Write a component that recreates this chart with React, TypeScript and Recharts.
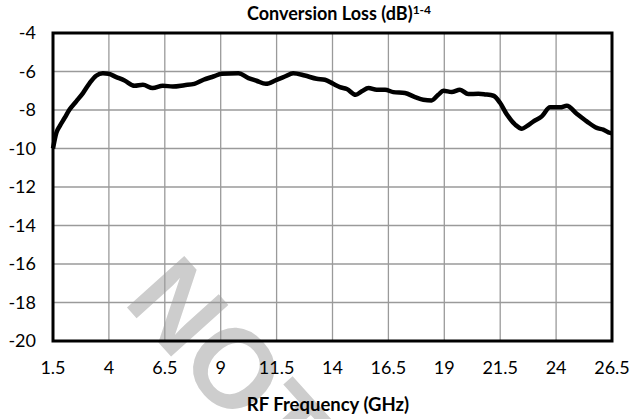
import { LineChart, Line, XAxis, YAxis, CartesianGrid, ReferenceArea } from 'recharts';

// RF frequency (GHz) and conversion loss (dB)
const freq = [
  1.5, 1.65, 1.8, 2.02, 2.24, 2.54, 2.84, 3.14, 3.43, 3.73, 3.98, 4.33, 4.7, 5.15, 5.52, 5.96,
  6.41, 6.86, 7.38, 7.82, 8.23, 8.67, 9.04, 9.79, 10.24, 10.6, 11.02, 11.5, 11.87, 12.24, 12.76,
  13.29, 13.66, 14.03, 14.33, 14.64, 15.04, 15.31, 15.61, 15.98, 16.35, 16.72, 17.24, 17.69,
  18.06, 18.43, 18.73, 18.96, 19.33, 19.7, 20.07, 20.52, 20.82, 21.2, 21.5, 21.8, 22.17, 22.47,
  22.69, 22.99, 23.36, 23.73, 24.18, 24.48, 24.92, 25.37, 25.82, 26.11, 26.41, 26.5,
];
const loss = [
  -10.0, -9.19, -8.84, -8.41, -7.98, -7.55, -7.12, -6.6, -6.22, -6.09, -6.12, -6.29, -6.47, -6.74,
  -6.69, -6.86, -6.74, -6.78, -6.71, -6.64, -6.43, -6.26, -6.12, -6.09, -6.34, -6.48, -6.64, -6.43,
  -6.26, -6.09, -6.21, -6.38, -6.43, -6.64, -6.81, -6.91, -7.21, -7.03, -6.86, -6.95, -6.95, -7.07,
  -7.12, -7.33, -7.47, -7.5, -7.21, -7.0, -7.07, -6.95, -7.17, -7.16, -7.19, -7.26, -7.64, -8.24,
  -8.76, -8.97, -8.84, -8.59, -8.33, -7.86, -7.86, -7.78, -8.19, -8.59, -8.93, -9.02, -9.19, -9.2,
];

const xTicks = [1.5, 4, 6.5, 9, 11.5, 14, 16.5, 19, 21.5, 24, 26.5];
const yTicks = [-20, -18, -16, -14, -12, -10, -8, -6, -4];

const data = freq.map((f, i) => ({ f, loss: loss[i] }));

const FONT = 'Lato, "Open Sans", sans-serif';

export default function App() {
  return (
    <div style={{ position: 'absolute', left: 0, top: 0, width: 631, height: 419, background: '#fff', overflow: 'hidden' }}>
      {/* background layer: watermark + titles */}
      <svg width={631} height={419} style={{ position: 'absolute', left: 0, top: 0 }}>
        <text
          x={122}
          y={302}
          transform="rotate(48 122 302)"
          fontFamily='"Liberation Sans", Arial, sans-serif'
          fontWeight="bold"
          fontSize={112}
          fill="#cdcdcd"
        >
          NOT
        </text>
        <text x={247} y={20} fontFamily={FONT} fontWeight="bold" fontSize={18} fill="#000">
          Conversion Loss (dB)
          <tspan fontSize={12} dy={-6}>1-4</tspan>
        </text>
        <text x={328} y={411} textAnchor="middle" fontFamily={FONT} fontWeight="bold" fontSize={18.5} fill="#000">
          RF Frequency (GHz)
        </text>
      </svg>
      <div style={{ position: 'absolute', left: 0, top: 0 }}>
        <LineChart width={631} height={419} data={data} margin={{ top: 33, right: 19, left: 0, bottom: 38 }}>
          <CartesianGrid stroke="#9a9a9a" strokeWidth={1.3} horizontalValues={yTicks} verticalValues={xTicks} />
          <XAxis
            dataKey="f"
            type="number"
            domain={[1.5, 26.5]}
            ticks={xTicks}
            height={40}
            axisLine={false}
            tickLine={false}
            tickSize={0}
            tickMargin={20}
            tick={{ fill: '#000', fontSize: 18, fontFamily: FONT }}
          />
          <YAxis
            type="number"
            domain={[-20, -4]}
            ticks={yTicks}
            width={53}
            axisLine={false}
            tickLine={false}
            tickSize={0}
            tickMargin={17}
            tick={{ fill: '#000', fontSize: 18, fontFamily: FONT }}
          />
          <ReferenceArea x1={1.5} x2={26.5} y1={-20} y2={-4} fill="none" stroke="#000" strokeWidth={3} ifOverflow="visible" />
          <Line
            type="monotone"
            dataKey="loss"
            stroke="#000"
            strokeWidth={4.5}
            dot={false}
            isAnimationActive={false}
          />
        </LineChart>
      </div>
    </div>
  );
}
